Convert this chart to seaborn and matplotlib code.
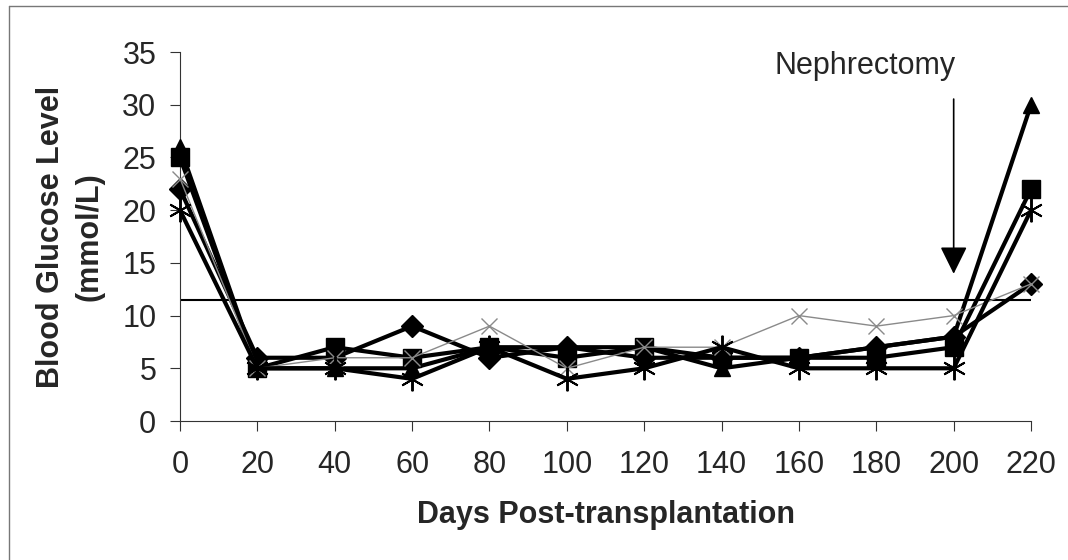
import matplotlib
matplotlib.use("Agg")
import matplotlib.pyplot as plt
from matplotlib.lines import Line2D
import pandas as pd
import seaborn as sns

# Days after transplant
days = [0, 20, 40, 60, 80, 100, 120, 140, 160, 180, 200, 220]

# blood glucose per animal (mmol/L)
mouse_diamond = [22, 6, 6, 9, 6, 7, 6, 6, 6, 7, 8, 13]
mouse_square = [25, 5, 7, 6, 7, 6, 7, 6, 6, 6, 7, 22]
mouse_triangle = [26, 5, 5, 5, 7, 7, 7, 5, 6, 7, 8, 30]
mouse_x = [23, 5, 6, 6, 9, 5, 7, 7, 10, 9, 10, 13]
mouse_star = [20, 5, 5, 4, 7, 4, 5, 7, 5, 5, 5, 20]

threshold = 11.5
nephrectomy_day = 200

sns.set_style("white")
plt.rcParams["font.family"] = ["Liberation Sans", "DejaVu Sans"]

fig = plt.figure(figsize=(10.68, 5.6), dpi=100)
ax = fig.add_axes([0.1685, 0.2482, 0.7969, 0.6589])

series = [
    (mouse_diamond, "D", 11, "black", 3.0, 1.0),
    (mouse_square, "s", 13, "black", 3.0, 1.0),
    (mouse_triangle, "^", 12, "black", 3.0, 1.0),
    (mouse_x, "x", 12, "#8a8a8a", 1.0, 1.0),
    (mouse_star, (6, 2, 0), 17, "black", 3.0, 1.4),
]
for vals, mk, ms, col, lw, mew in series:
    df = pd.DataFrame({"day": days, "glucose": vals})
    sns.lineplot(data=df, x="day", y="glucose", ax=ax, color=col, linewidth=lw,
                 marker=mk, markersize=ms, markeredgecolor=col, markerfacecolor=col,
                 markeredgewidth=mew, clip_on=False, zorder=3)

ax.axhline(threshold, color="black", linewidth=1.5, zorder=2)

ax.annotate("", xy=(nephrectomy_day, 13.7), xytext=(nephrectomy_day, 30.8),
            arrowprops=dict(arrowstyle="-|>,head_length=0.85,head_width=0.42",
                            mutation_scale=20, color="black", lw=1.2))
ax.text(177, 33.7, "Nephrectomy", ha="center", va="center", fontsize=22)

ax.set_xlim(0, 220)
ax.set_ylim(0, 35)
ax.set_xticks(days)
ax.set_yticks(range(0, 36, 5))
ax.tick_params(axis="x", direction="out", length=7, width=0.8, pad=14,
               labelsize=22, color="#333333", bottom=True)
ax.tick_params(axis="y", direction="out", length=7, width=0.8, pad=10,
               labelsize=22, color="#333333", left=True)
for side in ["top", "right"]:
    ax.spines[side].set_visible(False)
for side in ["left", "bottom"]:
    ax.spines[side].set_color("#333333")
    ax.spines[side].set_linewidth(0.8)

ax.set_xlabel("Days Post-transplantation", fontsize=22, fontweight="bold", labelpad=14)
ax.set_ylabel("Blood Glucose Level\n(mmol/L)", fontsize=22, fontweight="bold",
              linespacing=1.35)
ax.yaxis.set_label_coords(-0.089, 0.5)

# scan border (only top and left survived)
fig.add_artist(Line2D([0.0084, 1.0], [0.989, 0.989], color="#777777", lw=1))
fig.add_artist(Line2D([0.0084, 0.0084], [0.0, 0.989], color="#777777", lw=1))

fig.savefig("out.png", dpi=100)
